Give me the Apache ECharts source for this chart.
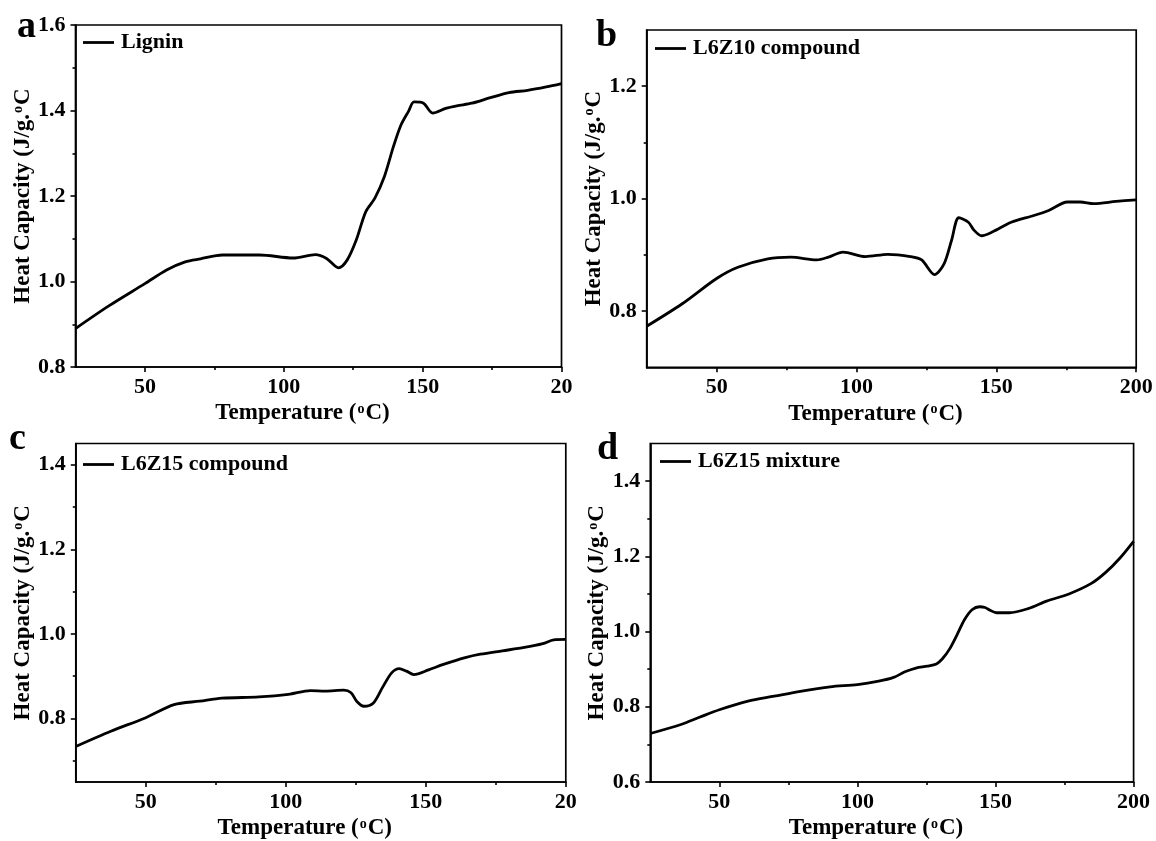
<!DOCTYPE html>
<html>
<head>
<meta charset="utf-8">
<title>Heat capacity of lignin and L6Z compounds</title>
<script src="https://cdn.jsdelivr.net/npm/echarts@6/dist/echarts.min.js"></script>
<style>
  html, body { margin: 0; padding: 0; background: #fff; }
  #chart { width: 1156px; height: 841px; }
</style>
</head>
<body>
<div id="chart"></div>
<script>
// ---- data: temperature (°C) and heat capacity (J/g·°C) per sample ----
const seriesNames = ['Lignin', 'L6Z10 compound', 'L6Z15 compound', 'L6Z15 mixture'];
const panelLetters = ['a', 'b', 'c', 'd'];

const tempA = [25, 37, 50, 57.8, 64.5, 70, 77.9, 91.3, 103.4, 111.4, 115.4, 119.7, 122.8, 126.1, 129.5, 132.8, 136.2, 139.5, 142.2, 144.9, 146.9, 150.3, 153.6, 158.3, 162.3, 167.7, 174.4, 181.1, 187.8, 194.5, 200];
const cpA   = [0.890, 0.943, 0.995, 1.027, 1.046, 1.053, 1.062, 1.062, 1.055, 1.063, 1.054, 1.032, 1.050, 1.097, 1.163, 1.195, 1.245, 1.316, 1.366, 1.398, 1.420, 1.417, 1.394, 1.405, 1.411, 1.417, 1.430, 1.442, 1.447, 1.455, 1.463];

const tempB = [25, 37.7, 50, 57.6, 68.3, 76.5, 85.8, 90, 95.2, 103.2, 111.2, 119.3, 123.3, 127.9, 131.3, 134, 136.6, 140, 142, 144.7, 148.7, 155.3, 163.4, 168.7, 175.4, 180, 184.8, 192.8, 200];
const cpB   = [0.773, 0.813, 0.858, 0.878, 0.893, 0.896, 0.891, 0.896, 0.905, 0.897, 0.901, 0.897, 0.891, 0.865, 0.884, 0.926, 0.966, 0.958, 0.944, 0.934, 0.941, 0.958, 0.970, 0.979, 0.994, 0.994, 0.991, 0.995, 0.998];

const tempC = [25, 37.5, 50, 60.1, 69.3, 77.2, 90.4, 100.9, 108.8, 114.1, 120.7, 123.3, 125.3, 127.9, 131.2, 134.5, 137.8, 140.5, 143.1, 145.7, 151, 156.3, 164.1, 169.5, 177.3, 185.2, 191.8, 195.7, 200];
const cpC   = [0.734, 0.770, 0.802, 0.833, 0.841, 0.848, 0.851, 0.857, 0.866, 0.865, 0.867, 0.861, 0.841, 0.829, 0.836, 0.873, 0.908, 0.918, 0.912, 0.904, 0.915, 0.928, 0.944, 0.952, 0.960, 0.968, 0.977, 0.986, 0.987];

const tempD = [25, 36.1, 42.8, 50, 60.4, 69.9, 79.3, 90.1, 100, 107.7, 113.1, 117.2, 121.2, 125.3, 128.6, 130.7, 133.4, 136.1, 138.8, 141.5, 144.2, 146.2, 148.2, 150.3, 155, 161.8, 168.5, 176.6, 184.7, 190, 195, 200];
const cpD   = [0.729, 0.753, 0.772, 0.792, 0.815, 0.828, 0.841, 0.853, 0.859, 0.868, 0.878, 0.893, 0.903, 0.908, 0.914, 0.927, 0.954, 0.992, 1.032, 1.058, 1.066, 1.064, 1.056, 1.050, 1.050, 1.061, 1.081, 1.100, 1.128, 1.158, 1.195, 1.240];

// ---- axis ticks ----
const xMajor = [50, 100, 150, 200];
const xMinor = [75, 125, 175];
const xLabelsFull = ['50', '100', '150', '200'];
const xLabelsCut  = ['50', '100', '150', '20'];   // right-hand label of the left column is clipped

const yMajorA = [0.8, 1.0, 1.2, 1.4, 1.6];
const yMinorA = [0.9, 1.1, 1.3, 1.5];
const yMajorB = [0.8, 1.0, 1.2];
const yMinorB = [0.9, 1.1];
const yMajorC = [0.8, 1.0, 1.2, 1.4];
const yMinorC = [0.7, 0.9, 1.1, 1.3];
const yMajorD = [0.6, 0.8, 1.0, 1.2, 1.4];
const yMinorD = [0.7, 0.9, 1.1, 1.3];

const yRanges = [[0.8, 1.6], [0.7, 1.3], [0.65, 1.45], [0.6, 1.5]];
const xRange = [25, 200];

// ---- layout (pixels) ----
const FONT = "'Liberation Serif', 'Times New Roman', serif";
const panels = [
  { T: tempA, Cp: cpA, yMajor: yMajorA, yMinor: yMinorA, xLabels: xLabelsCut,
    grid: { left: 75.5, top: 25, width: 486, height: 342 },
    legend: { left: 83, cy: 43 }, letter: { x: 17, y: 8 } },
  { T: tempB, Cp: cpB, yMajor: yMajorB, yMinor: yMinorB, xLabels: xLabelsFull,
    grid: { left: 646.7, top: 30, width: 489.5, height: 337.3 },
    legend: { left: 655, cy: 49 }, letter: { x: 596, y: 17 } },
  { T: tempC, Cp: cpC, yMajor: yMajorC, yMinor: yMinorC, xLabels: xLabelsCut,
    grid: { left: 75.8, top: 443.5, width: 490, height: 338.8 },
    legend: { left: 83, cy: 465 }, letter: { x: 9, y: 420 } },
  { T: tempD, Cp: cpD, yMajor: yMajorD, yMinor: yMinorD, xLabels: xLabelsFull,
    grid: { left: 650.3, top: 443.5, width: 483.3, height: 338.8 },
    legend: { left: 660, cy: 462 }, letter: { x: 597, y: 430 } }
];

const supRich = {
  s: { fontSize: 14, fontWeight: 'bold', fontFamily: FONT, color: '#000', verticalAlign: 'top', padding: [0, 1, 8, 1] }
};
const nameStyle = {
  fontFamily: FONT, fontWeight: 'bold', fontSize: 23, color: '#000', rich: supRich
};
const labelStyle = { fontFamily: FONT, fontWeight: 'bold', fontSize: 22, color: '#000' };

const grids = [], xAxes = [], yAxes = [], series = [], legends = [], graphics = [];

panels.forEach((p, i) => {
  grids.push(Object.assign({
    show: true, borderColor: '#000', borderWidth: 1.7, backgroundColor: 'transparent',
    containLabel: false
  }, p.grid));

  const xl = p.xLabels;
  // main x axis: labels and long ticks
  xAxes.push({
    gridIndex: i, type: 'value', position: 'bottom', min: xRange[0], max: xRange[1],
    name: 'Temperature ({s|o}C)', nameLocation: 'middle', nameGap: 35,
    nameTextStyle: Object.assign({ padding: [0, 32, 0, 0] }, nameStyle),
    axisLine: { show: true, lineStyle: { color: '#000', width: 1.7 } },
    axisTick: { show: true, length: 5, lineStyle: { color: '#000', width: 1.6 }, customValues: xMajor },
    axisLabel: Object.assign({
      margin: 9, customValues: xMajor,
      formatter: v => xl[xMajor.indexOf(Math.round(v))] || ''
    }, labelStyle),
    splitLine: { show: false }
  });
  // companion x axis: short ticks in between
  xAxes.push({
    gridIndex: i, type: 'value', position: 'bottom', min: xRange[0], max: xRange[1],
    axisLine: { show: false },
    axisTick: { show: true, length: 3, lineStyle: { color: '#000', width: 1.6 }, customValues: xMinor },
    axisLabel: { show: false },
    splitLine: { show: false }
  });

  yAxes.push({
    gridIndex: i, type: 'value', position: 'left', min: yRanges[i][0], max: yRanges[i][1],
    name: 'Heat Capacity (J/g.{s|o}C', nameLocation: 'middle', nameGap: 40,
    nameTextStyle: nameStyle,
    axisLine: { show: true, lineStyle: { color: '#000', width: 1.7 } },
    axisTick: { show: true, length: 5, lineStyle: { color: '#000', width: 1.6 }, customValues: p.yMajor },
    axisLabel: Object.assign({
      margin: 10, customValues: p.yMajor, formatter: v => v.toFixed(1)
    }, labelStyle),
    splitLine: { show: false }
  });
  yAxes.push({
    gridIndex: i, type: 'value', position: 'left', min: yRanges[i][0], max: yRanges[i][1],
    axisLine: { show: false },
    axisTick: { show: true, length: 3, lineStyle: { color: '#000', width: 1.6 }, customValues: p.yMinor },
    axisLabel: { show: false },
    splitLine: { show: false }
  });

  series.push({
    name: seriesNames[i], type: 'line',
    xAxisIndex: 2 * i, yAxisIndex: 2 * i,
    data: p.T.map((t, k) => [t, p.Cp[k]]),
    symbol: 'none', smooth: 0.3,
    lineStyle: { color: '#000', width: 2.8 },
    itemStyle: { color: '#000' },
    silent: true
  });

  legends.push({
    data: [seriesNames[i]], left: p.legend.left, top: p.legend.cy - 11.5,
    padding: 0, icon: 'rect', itemWidth: 31, itemHeight: 2.8, itemGap: 0,
    textStyle: { fontFamily: FONT, fontWeight: 'bold', fontSize: 22, color: '#000', padding: [0, 0, 0, 2] },
    selectedMode: false
  });

  graphics.push({
    type: 'text', left: p.letter.x, top: p.letter.y,
    style: { text: panelLetters[i], font: "bold 38px 'Liberation Serif', serif", fill: '#000' }
  });
});

const chart = echarts.init(document.getElementById('chart'), null, { renderer: 'canvas' });
chart.setOption({
  backgroundColor: '#fff',
  animation: false,
  grid: grids,
  xAxis: xAxes,
  yAxis: yAxes,
  legend: legends,
  series: series,
  graphic: graphics
});
</script>
</body>
</html>
